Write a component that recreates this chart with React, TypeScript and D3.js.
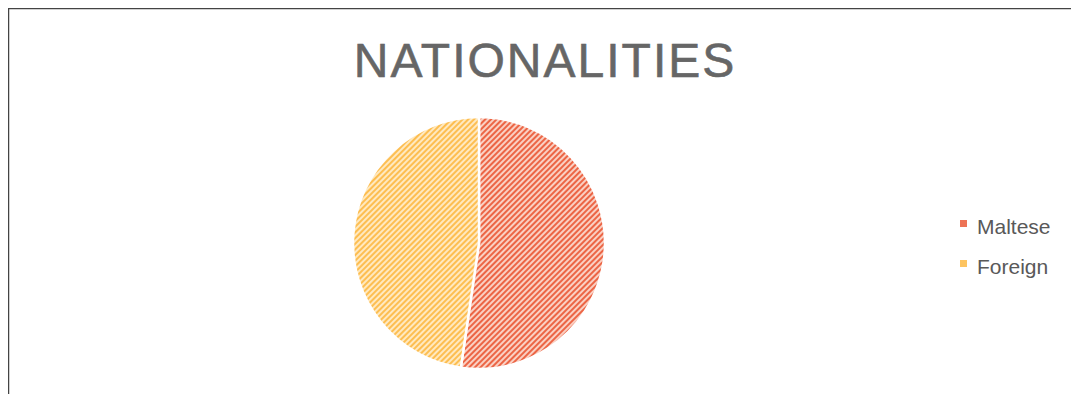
import React from "react";
import * as d3 from "d3";

const title = "NATIONALITIES";
const categories = ["Maltese", "Foreign"];
const values = [52.3, 47.7];
const colors = ["#EA5A38", "#FDBA45"];
const tints = ["#FAD0C3", "#FFE9C0"];

export default function App() {
  const W = 1063;
  const H = 386;
  const cx = 471;
  const cy = 235;
  const r = 126;
  const pie = d3.pie<number>().sort(null).value((d) => d)(values);
  const arc = d3.arc<d3.PieArcDatum<number>>().innerRadius(0).outerRadius(r);
  return (
    <svg
      width={W}
      height={H}
      style={{ display: "block", position: "fixed", left: 8, top: 8 }}
      fontFamily="'Liberation Sans', Arial, sans-serif"
    >
      <defs>
        {categories.map((c, i) => (
          <pattern
            key={c}
            id={`hatch${i}`}
            patternUnits="userSpaceOnUse"
            width={4}
            height={4}
            patternTransform="rotate(45)"
          >
            <rect width={4} height={4} fill={tints[i]} />
            <rect width={2} height={4} fill={colors[i]} opacity={0.9} />
          </pattern>
        ))}
      </defs>
      <rect x={0} y={0} width={W} height={H} fill="#fff" />
      <line x1={0} y1={0.5} x2={W} y2={0.5} stroke="#444" strokeWidth={1.5} />
      <line x1={0.5} y1={0} x2={0.5} y2={H} stroke="#444" strokeWidth={1.5} />
      <text
        x={537}
        y={69}
        textAnchor="middle"
        fontSize={48}
        fill="#666"
        stroke="#666"
        strokeWidth={0.6}
        letterSpacing={2}
      >
        {title}
      </text>
      <g transform={`translate(${cx},${cy})`}>
        {pie.map((p, i) => (
          <path key={i} d={arc(p) || ""} fill={`url(#hatch${i})`} stroke="#fff" strokeWidth={2.5} />
        ))}
      </g>
      {categories.map((c, i) => (
        <g key={c} transform={`translate(952,${212 + i * 40})`}>
          <rect x={0} y={0} width={7} height={7} fill={colors[i]} opacity={0.85} />
          <text x={17} y={14} fontSize={21} fill="#595959">
            {c}
          </text>
        </g>
      ))}
    </svg>
  );
}
